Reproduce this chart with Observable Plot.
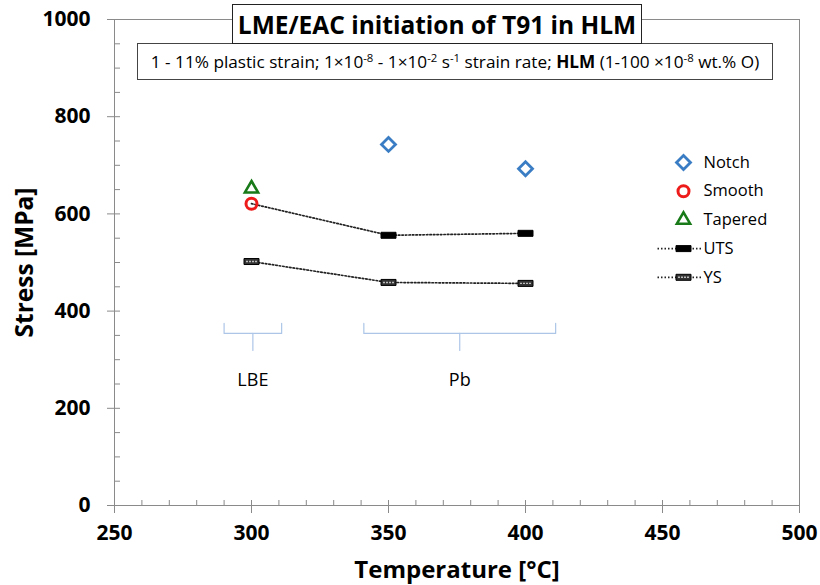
<!DOCTYPE html>
<html><head><meta charset="utf-8">
<script src="https://cdn.jsdelivr.net/npm/d3@7"></script>
<script src="https://cdn.jsdelivr.net/npm/@observablehq/plot@0.6"></script>
<style>
body{margin:0;background:#fff;}
#wrap{position:relative;width:820px;height:585px;font-family:"Open Sans",sans-serif;color:#000;}
#wrap svg{display:block;}
#title{position:absolute;left:232px;top:4px;width:410px;height:40px;box-sizing:border-box;border:1.5px solid #222;background:#fff;font-weight:bold;font-size:24.5px;display:flex;align-items:center;justify-content:center;z-index:2;white-space:nowrap;}
#subtitle{position:absolute;left:137px;top:43px;width:636px;height:37px;box-sizing:border-box;border:1px solid #444;background:#fff;font-size:17.2px;display:flex;align-items:center;justify-content:center;white-space:nowrap;z-index:1;}
#subtitle span{white-space:pre;}
sup{font-size:0.66em;vertical-align:0.55em;line-height:0;}
</style></head><body><div id="wrap"></div>
<script>
// ---- data ----
const titleText = "LME/EAC initiation of T91 in HLM";
const subtitleHTML = "1 - 11% plastic strain; 1×10<sup>-8</sup> - 1×10<sup>-2</sup> s<sup>-1</sup> strain rate; <b>HLM</b> (1-100 ×10<sup>-8</sup> wt.% O)";
const xLabel = "Temperature [°C]";
const yLabel = "Stress [MPa]";

const notchTemp = [350, 400];
const notchStress = [743, 693];
const smoothTemp = [300];
const smoothStress = [621];
const taperedTemp = [300];
const taperedStress = [652];
const utsTemp = [300, 350, 400];
const utsStress = [621, 556, 560];
const ysTemp = [300, 350, 400];
const ysStress = [502, 459, 457];

const xTicks = [250, 300, 350, 400, 450, 500];
const yTicks = [0, 200, 400, 600, 800, 1000];
const xMinorTicks = d3.range(250, 501, 10);
const yMinorTicks = d3.range(0, 1001, 50);

const legendLabels = ["Notch", "Smooth", "Tapered", "UTS", "YS"];

const braceLabels = ["LBE", "Pb"];
const braceFrom = [290, 341];
const braceTo = [311, 411];
const braceTop = 375, braceMid = 354, braceTip = 319, braceLabelY = 257;

// ---- build ----
const pts = (xs, ys) => xs.map((x, i) => ({x, y: ys[i]}));
const notch = pts(notchTemp, notchStress);
const smooth = pts(smoothTemp, smoothStress);
const tapered = pts(taperedTemp, taperedStress);
const uts = pts(utsTemp, utsStress);
const ys = pts(ysTemp, ysStress);

const braces = [];
braceLabels.forEach((lab, i) => {
  const a = braceFrom[i], b = braceTo[i], c = (a + b) / 2;
  [[a, braceTop], [a, braceMid], [c, braceMid], [c, braceTip]].forEach(([x, y]) => braces.push({x, y, z: lab + "L"}));
  [[c, braceMid], [b, braceMid], [b, braceTop]].forEach(([x, y]) => braces.push({x, y, z: lab + "R"}));
});
const braceText = braceLabels.map((t, i) => ({t, x: (braceFrom[i] + braceTo[i]) / 2, y: braceLabelY}));

const rectSym = {draw(ctx) { ctx.rect(-7.5, -3, 15, 6); }};
const ysInner = {draw(ctx) { ctx.moveTo(-5.5, 0); ctx.lineTo(5.5, 0); }};
const legLine = {draw(ctx) { ctx.moveTo(-26, 0); ctx.lineTo(18, 0); }};

const blue = "#3b7dc4", red = "#ee1b1b", green = "#187a18";
const dotted = {stroke: "#222", strokeWidth: 1.7, strokeDasharray: "1.5,2"};

const legendX = 569, legendTextX = 589, legendY0 = 143, legendStep = 28.7;
const L = (i) => ({frameAnchor: "top-left", dx: legendX, dy: legendY0 + i * legendStep});
const legendMarks = [
  Plot.dot([0], {...L(0), symbol: "diamond2", r: 6.3, stroke: blue, strokeWidth: 2.8, fill: "none"}),
  Plot.dot([0], {...L(1), symbol: "circle", r: 5.5, stroke: red, strokeWidth: 3, fill: "none"}),
  Plot.dot([0], {...L(2), symbol: "triangle2", r: 6.3, stroke: green, strokeWidth: 2.6, fill: "none"}),
  Plot.dot([0], {...L(3), symbol: legLine, ...dotted, fill: "none"}),
  Plot.dot([0], {...L(3), symbol: rectSym, fill: "#000", stroke: "#000", strokeWidth: 1}),
  Plot.dot([0], {...L(4), symbol: legLine, ...dotted, fill: "none"}),
  Plot.dot([0], {...L(4), symbol: rectSym, fill: "#333", stroke: "#000", strokeWidth: 1}),
  Plot.dot([0], {...L(4), symbol: ysInner, stroke: "#bbb", strokeWidth: 1.4, strokeDasharray: "2,1", fill: "none"}),
  ...legendLabels.map((t, i) => Plot.text([t], {frameAnchor: "top-left", dx: legendTextX, dy: legendY0 + i * legendStep, text: d => d, textAnchor: "start", lineAnchor: "middle", fontSize: 16.5}))
];

const chart = Plot.plot({
  width: 820, height: 585,
  marginLeft: 114, marginRight: 21, marginTop: 19, marginBottom: 80,
  style: {fontFamily: "'Open Sans', sans-serif", color: "#000", background: "#fff", overflow: "visible"},
  x: {domain: [250, 500]},
  y: {domain: [0, 1000]},
  marks: [
    Plot.axisX({ticks: xMinorTicks, tickSize: 5, dy: -5, text: null, label: null, stroke: "#8a8a8a"}),
    Plot.axisY({ticks: yMinorTicks, tickSize: 6, dx: 6, text: null, label: null, stroke: "#8a8a8a"}),
    Plot.axisX({ticks: xTicks, tickSize: 8, tickPadding: 12, label: null, stroke: "#8a8a8a", fill: "#000", fontSize: 21, fontWeight: "bold", tickFormat: d => String(d)}),
    Plot.axisY({ticks: yTicks, tickSize: 7, tickPadding: 17, label: null, stroke: "#8a8a8a", fill: "#000", fontSize: 21, fontWeight: "bold", tickFormat: d => String(d)}),
    Plot.frame({stroke: "#8a8a8a"}),
    Plot.text([xLabel], {frameAnchor: "bottom", dy: 65, text: d => d, textAnchor: "middle", lineAnchor: "middle", fontSize: 24, fontWeight: "bold"}),
    Plot.text([yLabel], {frameAnchor: "left", dx: -89, rotate: -90, text: d => d, textAnchor: "middle", lineAnchor: "middle", fontSize: 24.5, fontWeight: "bold"}),
    Plot.line(braces, {x: "x", y: "y", z: "z", stroke: "#adc6e8", strokeWidth: 1.2}),
    Plot.text(braceText, {x: "x", y: "y", text: "t", fontSize: 18}),
    Plot.line(uts, {x: "x", y: "y", ...dotted}),
    Plot.line(ys, {x: "x", y: "y", ...dotted}),
    Plot.dot(uts.slice(1), {x: "x", y: "y", symbol: rectSym, fill: "#000", stroke: "#000", strokeWidth: 1}),
    Plot.dot(ys, {x: "x", y: "y", symbol: rectSym, fill: "#333", stroke: "#000", strokeWidth: 1}),
    Plot.dot(ys, {x: "x", y: "y", symbol: ysInner, stroke: "#bbb", strokeWidth: 1.4, strokeDasharray: "2,1", fill: "none"}),
    Plot.dot(notch, {x: "x", y: "y", symbol: "diamond2", r: 6.3, stroke: blue, strokeWidth: 2.8, fill: "none"}),
    Plot.dot(smooth, {x: "x", y: "y", symbol: "circle", r: 5.5, stroke: red, strokeWidth: 3, fill: "none"}),
    Plot.dot(tapered, {x: "x", y: "y", symbol: "triangle2", r: 6.3, stroke: green, strokeWidth: 2.6, fill: "none"}),
    ...legendMarks
  ]
});

const wrap = document.getElementById("wrap");
wrap.appendChild(chart);
const t = document.createElement("div"); t.id = "title"; t.textContent = titleText; wrap.appendChild(t);
const s = document.createElement("div"); s.id = "subtitle";
const sp = document.createElement("span"); sp.innerHTML = subtitleHTML; s.appendChild(sp);
wrap.appendChild(s);
</script></body></html>
